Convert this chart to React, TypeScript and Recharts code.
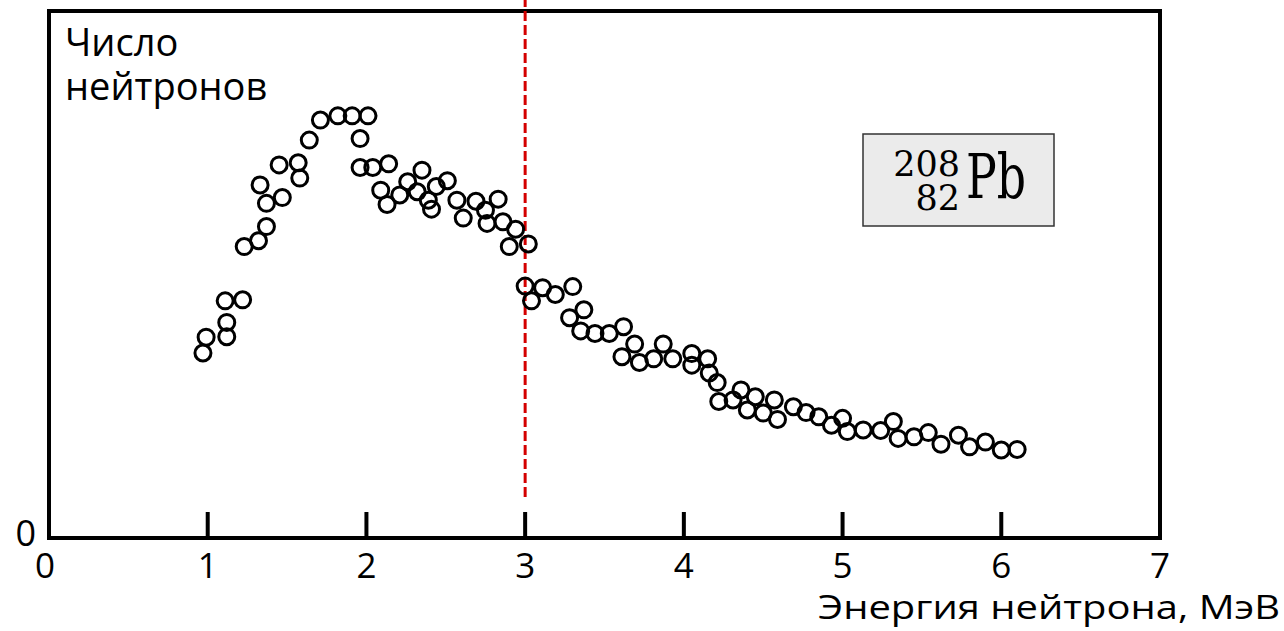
import { ScatterChart, Scatter, XAxis, YAxis, ReferenceArea, ReferenceLine } from 'recharts';

// энергия нейтрона, МэВ
const energy = [
  0.97, 0.99, 1.12, 1.12, 1.11, 1.22, 1.23, 1.32, 1.37, 1.33, 1.37, 1.47, 1.45, 1.57, 1.58, 1.64,
  1.71, 1.82, 1.91, 2.01, 1.96, 1.96, 2.04, 2.14, 2.09, 2.13, 2.21, 2.26, 2.35, 2.32, 2.39, 2.41,
  2.44, 2.51, 2.57, 2.61, 2.69, 2.75, 2.83, 2.76, 2.86, 2.94, 2.9, 3.02, 3.0, 3.04, 3.11, 3.19,
  3.3, 3.28, 3.37, 3.35, 3.44, 3.53, 3.62, 3.61, 3.69, 3.72, 3.81, 3.87, 3.93, 4.05, 4.05, 4.15,
  4.16, 4.21, 4.22, 4.31, 4.36, 4.4, 4.45, 4.5, 4.57, 4.59, 4.69, 4.77, 4.85, 4.93, 5.0, 5.03,
  5.13, 5.24, 5.32, 5.35, 5.45, 5.54, 5.62, 5.73, 5.8, 5.9, 6.0, 6.1,
];

// число нейтронов, отн. ед.
const counts = [
  35.1, 38.1, 38.2, 40.9, 45.0, 45.2, 55.3, 56.4, 59.1, 67.0, 63.5, 64.6, 70.8, 71.2, 68.3, 75.5,
  79.3, 80.1, 80.1, 80.1, 75.8, 70.3, 70.3, 71.0, 66.0, 63.3, 65.1, 67.6, 69.8, 65.7, 64.1, 62.4,
  66.7, 67.8, 64.1, 60.7, 63.9, 62.2, 64.3, 59.7, 60.0, 58.6, 55.3, 55.8, 47.8, 45.0, 47.5, 46.2,
  47.7, 41.8, 43.3, 39.3, 38.8, 38.8, 40.1, 34.4, 36.8, 33.3, 34.0, 36.8, 34.0, 35.0, 32.8, 34.0,
  31.3, 29.5, 25.9, 26.2, 28.1, 24.3, 26.8, 23.7, 26.2, 22.5, 24.9, 23.8, 23.0, 21.4, 22.7, 20.2,
  20.5, 20.4, 22.1, 18.9, 19.2, 20.0, 17.8, 19.5, 17.3, 18.2, 16.7, 16.8,
];

const xTicks = [0, 1, 2, 3, 4, 5, 6, 7];
const yTicks = [0];

const data = energy.map((e, i) => ({ e, n: counts[i] }));

const sans = '"Open Sans", sans-serif';

const XTick = (props: any) => {
  const { x, y, payload } = props;
  const v = payload.value;
  return (
    <g>
      {v > 0 && v < 7 && <line x1={x} x2={x} y1={y - 26} y2={y} stroke="#000" strokeWidth={4} />}
      <text x={x - (v === 0 ? 4 : 0)} y={y + 40} textAnchor="middle" fontSize={35} fontFamily={sans} fill="#000">
        {v}
      </text>
    </g>
  );
};

const YTick = (props: any) => {
  const { x, y, payload } = props;
  return (
    <text x={x - 13} y={y + 8} textAnchor="end" fontSize={36} fontFamily={sans} fill="#000">
      {payload.value}
    </text>
  );
};

const Ring = (props: any) => (
  <circle cx={props.cx} cy={props.cy} r={8} fill="none" stroke="#000" strokeWidth={3} />
);

export default function App() {
  return (
    <div style={{ position: 'absolute', left: 0, top: 0, width: 1284, height: 631, background: '#fff' }}>
      <ScatterChart width={1284} height={631} margin={{ top: 11, right: 124, bottom: 53, left: 9 }}>
        <XAxis
          type="number"
          dataKey="e"
          domain={[0, 7]}
          ticks={xTicks}
          height={40}
          axisLine={false}
          tickLine={false}
          tickSize={0}
          tickMargin={0}
          tick={<XTick />}
          interval={0}
        />
        <YAxis
          type="number"
          dataKey="n"
          domain={[0, 100]}
          ticks={yTicks}
          width={40}
          axisLine={false}
          tickLine={false}
          tickSize={0}
          tickMargin={0}
          tick={<YTick />}
        />
        <ReferenceArea x1={0} x2={7} y1={0} y2={100} fill="none" stroke="#000" strokeWidth={4} fillOpacity={0} />
        <ReferenceLine
          segment={[{ x: 3, y: 7.8 }, { x: 3, y: 103 }]}
          stroke="#d40000"
          strokeWidth={3}
          strokeDasharray="10 4"
          ifOverflow="visible"
        />
        <Scatter data={data} shape={<Ring />} isAnimationActive={false} />
      </ScatterChart>
      <svg width={1284} height={631} style={{ position: 'absolute', left: 0, top: 0, pointerEvents: 'none' }}>
        <text x={65} y={56} fontSize={38} fontFamily={sans} fill="#000">Число</text>
        <text x={65} y={100} fontSize={38} fontFamily={sans} fill="#000">нейтронов</text>
        <text
          x={818}
          y={619}
          fontSize={33}
          fontFamily={sans}
          fill="#000"
          textLength={462}
          lengthAdjust="spacingAndGlyphs"
        >
          Энергия нейтрона, МэВ
        </text>
        <rect x={863} y={134} width={191} height={92} fill="#ebebeb" stroke="#333" strokeWidth={1.5} />
        <text textAnchor="end" fontSize={35} fontFamily="DejaVu Serif" fill="#000">
          <tspan x={960} y={176}>208</tspan>
          <tspan x={960} y={210}>82</tspan>
        </text>
        <text x={966} y={198} fontSize={62} fontFamily="DejaVu Serif" fill="#000" textLength={60} lengthAdjust="spacingAndGlyphs">
          Pb
        </text>
      </svg>
    </div>
  );
}
